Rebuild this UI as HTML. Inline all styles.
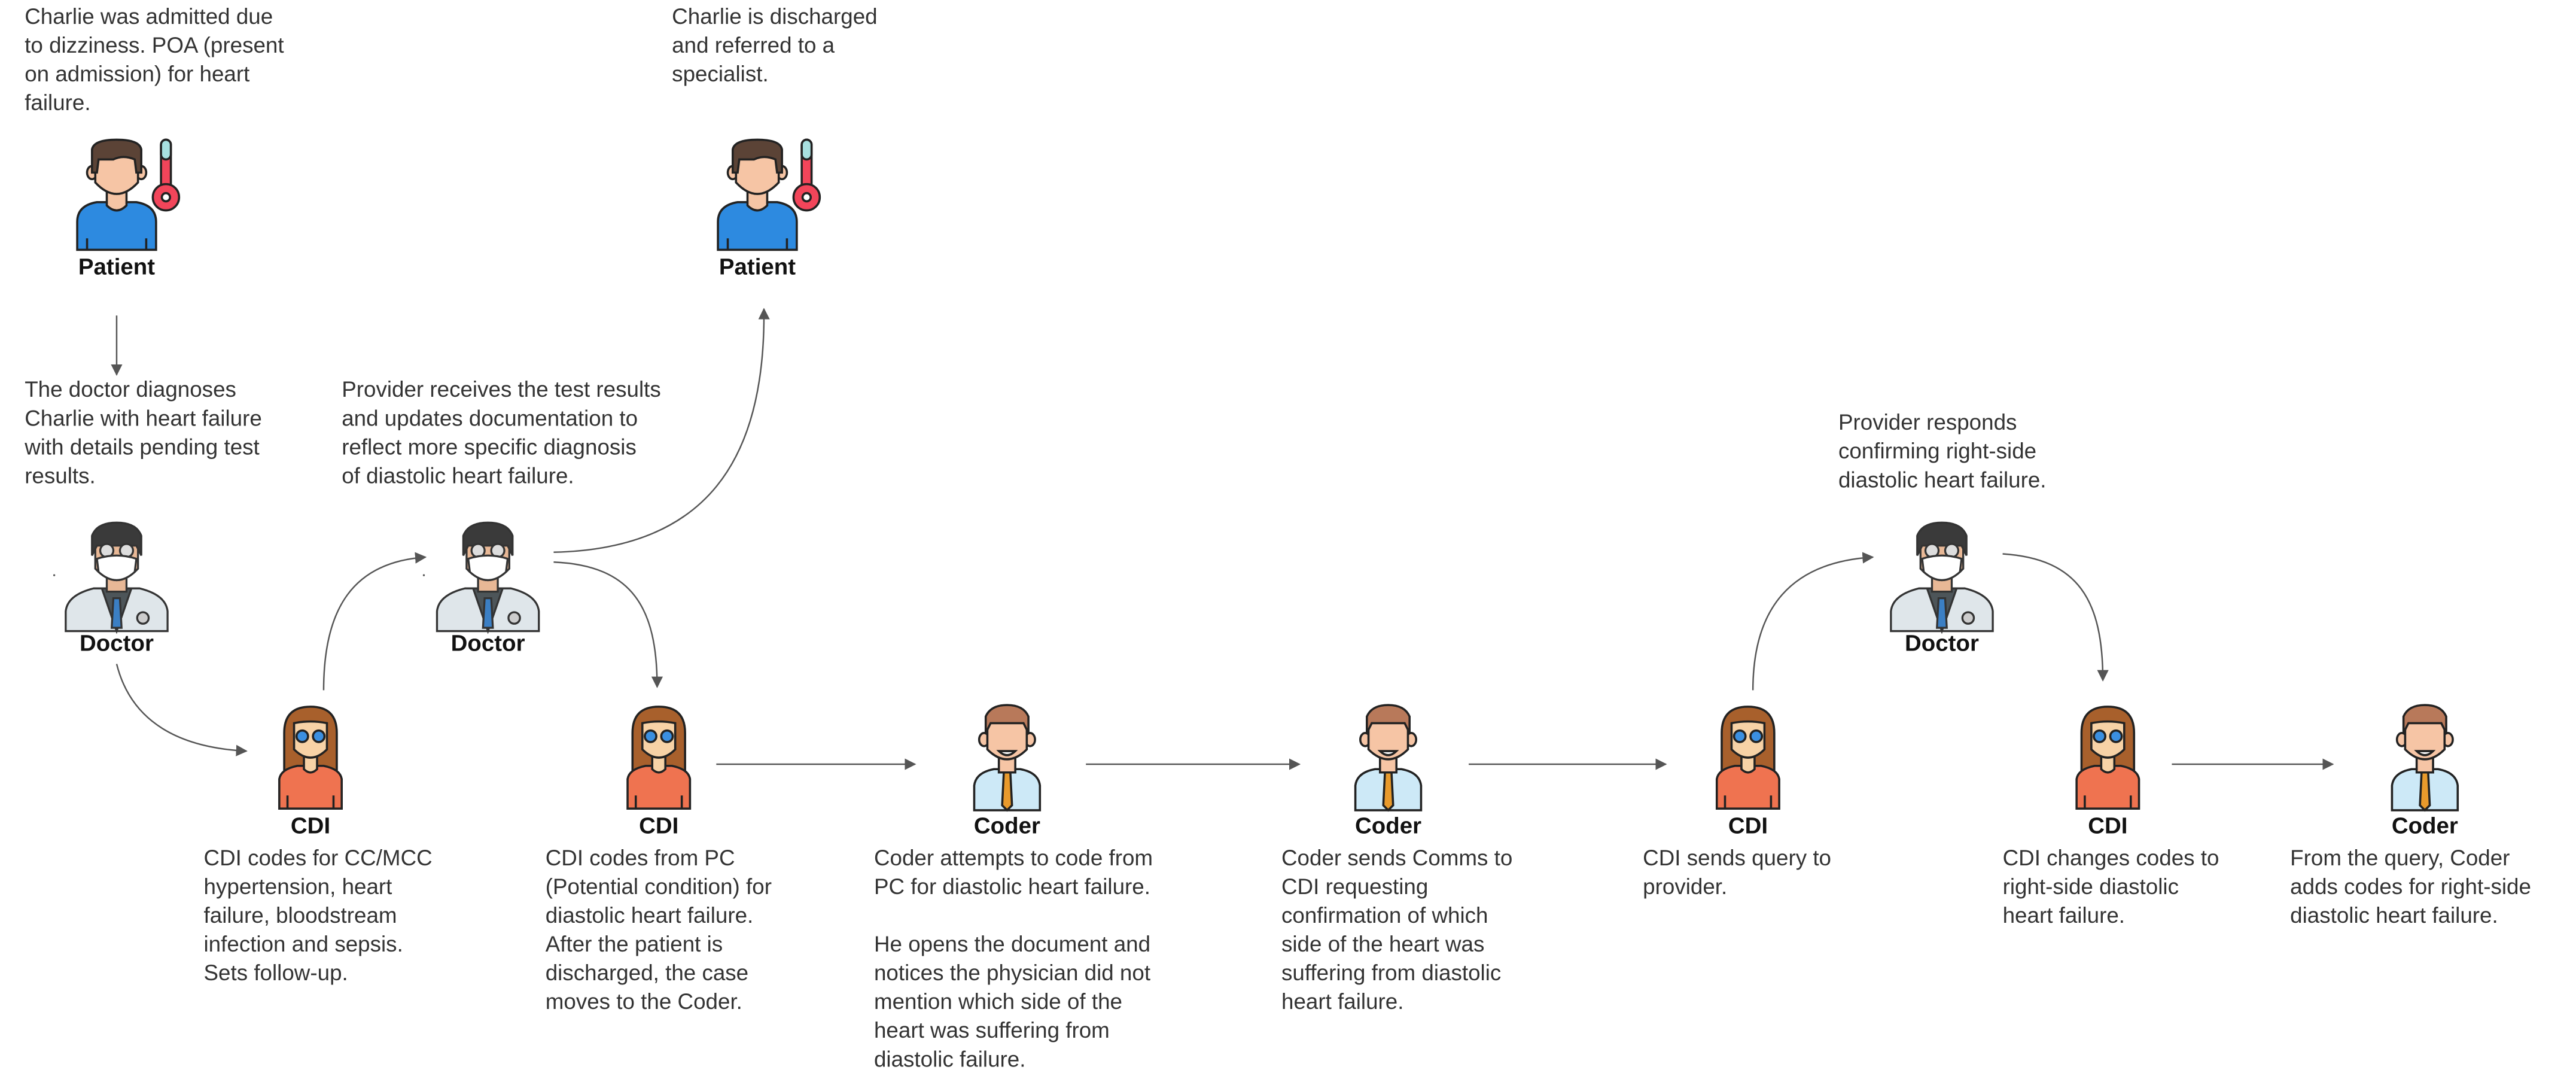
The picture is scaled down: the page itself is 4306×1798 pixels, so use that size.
<!DOCTYPE html>
<html><head><meta charset="utf-8"><style>
html,body{margin:0;padding:0;background:#fff;}
svg{display:block;}
.t{font-family:"Liberation Sans",sans-serif;font-size:13.4px;fill:#333;}
.l{font-family:"Liberation Sans",sans-serif;font-size:14px;font-weight:bold;fill:#111;text-anchor:middle;}
.c{fill:none;stroke:#555;stroke-width:0.9;}
</style></head><body>
<svg width="4306" height="1798" viewBox="0 0 1568 654.7" xmlns="http://www.w3.org/2000/svg">
<defs>
<marker id="a" viewBox="0 0 10 10" refX="9" refY="5" markerWidth="7" markerHeight="7" orient="auto" markerUnits="userSpaceOnUse"><path d="M0,0 L10,5 L0,10 z" fill="#555"/></marker>
<g id="patient" stroke="#222" stroke-width="1.3">
<path d="M-24,67 L-24,50 Q-24,40 -12,38 L12,38 Q24,40 24,50 L24,67 Z" fill="#2d8ae0"/>
<path d="M-6,30 L-6,40 Q0,46 6,40 L6,30 Z" fill="#f6c5a5"/>
<ellipse cx="-15" cy="20" rx="3" ry="4" fill="#f6c5a5"/><ellipse cx="15" cy="20" rx="3" ry="4" fill="#f6c5a5"/>
<path d="M-13,10 L-13,26 Q0,40 13,26 L13,10 Z" fill="#f6c5a5"/>
<path d="M-15,20 L-15,6 Q-14,0 0,0 Q14,0 15,6 L15,20 L12,20 L11,12 Q4,9 -2,12 L-11,12 L-12,20 Z" fill="#5b4336"/>
<path d="M-18,67 L-18,60 M18,67 L18,60" fill="none"/>
<rect x="27" y="0" width="6" height="30" rx="3" fill="#f2455a"/>
<rect x="27" y="0" width="6" height="12" rx="3" fill="#a8e0e0"/>
<circle cx="30" cy="35" r="8" fill="#f2455a"/><circle cx="30" cy="35" r="2.5" fill="#fff"/>
</g>
<g id="doctor" stroke="#333" stroke-width="1.2">
<path d="M-31,64 L-31,52 Q-30,42 -14,38 L14,38 Q30,42 31,52 L31,64 Z" fill="#dfe6ea"/>
<path d="M-9,38 L0,64 L9,38 Z" fill="#4d5559"/>
<path d="M-2,44 L2,44 L3,62 L-3,62 Z" fill="#3b7fc4"/>
<path d="M-6,30 L-6,40 L6,40 L6,30 Z" fill="#e8b896"/>
<path d="M-13,10 L-13,26 Q0,40 13,26 L13,10 Z" fill="#e8b896"/>
<path d="M-15,18 L-15,6 Q-12,-2 0,-2 Q12,-2 15,6 L15,18 L12,12 L-12,12 Z" fill="#3a3a3a"/>
<circle cx="-6" cy="15" r="4" fill="#ddd"/><circle cx="6" cy="15" r="4" fill="#ddd"/>
<path d="M-12,20 Q0,16 12,20 L11,28 Q0,38 -11,28 Z" fill="#fff"/>
<circle cx="16" cy="56" r="3.5" fill="#ccc"/>
</g>
<g id="cdi" stroke="#222" stroke-width="1.3">
<path d="M-16,44 L-16,16 Q-16,0 0,0 Q16,0 16,16 L16,44 Z" fill="#a8602c"/>
<path d="M-19,62 L-19,44 Q-18,38 -8,36 L8,36 Q18,38 19,44 L19,62 Z" fill="#ef7350"/>
<path d="M-4,30 L-4,38 Q0,42 4,38 L4,30 Z" fill="#f7d2a6"/>
<path d="M-10,10 L-10,26 Q0,36 10,26 L10,10 Q0,8 -10,10 Z" fill="#f7d2a6"/>
<circle cx="-5" cy="18" r="3.5" fill="#3b8fe0"/><circle cx="5" cy="18" r="3.5" fill="#3b8fe0"/>
<path d="M-14,62 L-14,54 M14,62 L14,54" fill="none"/>
</g>
<g id="coder" stroke="#222" stroke-width="1.3">
<path d="M-20,63 L-20,48 Q-19,40 -8,38 L8,38 Q19,40 20,48 L20,63 Z" fill="#cde9f7"/>
<path d="M-2,40 L2,40 L3,60 L0,63 L-3,60 Z" fill="#e89a2c"/>
<path d="M-5,30 L-5,40 L5,40 L5,30 Z" fill="#f6c5a5"/>
<ellipse cx="-14" cy="20" rx="3" ry="4" fill="#f6c5a5"/><ellipse cx="14" cy="20" rx="3" ry="4" fill="#f6c5a5"/>
<path d="M-12,10 L-12,26 Q0,38 12,26 L12,10 Z" fill="#f6c5a5"/>
<path d="M-13,16 L-13,6 Q-10,-1 0,-1 Q10,-1 13,6 L13,16 L10,10 L-10,10 Z" fill="#b8795a"/>
<path d="M-5,27 Q0,32 5,27 Z" fill="#fff"/>
</g>
</defs>

<use href="#patient" x="71" y="85"/>
<use href="#patient" x="461" y="85"/>
<use href="#doctor" x="71" y="320"/>
<use href="#doctor" x="297" y="320"/>
<use href="#doctor" x="1182" y="320"/>
<use href="#cdi" x="189" y="430"/>
<use href="#cdi" x="401" y="430"/>
<use href="#cdi" x="1064" y="430"/>
<use href="#cdi" x="1283" y="430"/>
<use href="#coder" x="613" y="430"/>
<use href="#coder" x="845" y="430"/>
<use href="#coder" x="1476" y="430"/>

<text class="l" x="71" y="167">Patient</text>
<text class="l" x="461" y="167">Patient</text>
<text class="l" x="71" y="396">Doctor</text>
<text class="l" x="297" y="396">Doctor</text>
<text class="l" x="1182" y="396">Doctor</text>
<text class="l" x="189" y="507">CDI</text>
<text class="l" x="401" y="507">CDI</text>
<text class="l" x="1064" y="507">CDI</text>
<text class="l" x="1283" y="507">CDI</text>
<text class="l" x="613" y="507">Coder</text>
<text class="l" x="845" y="507">Coder</text>
<text class="l" x="1476" y="507">Coder</text>

<path class="c" marker-end="url(#a)" d="M71,192 L71,228"/>
<path class="c" marker-end="url(#a)" d="M71,404 C80,440 110,455 150,457"/>
<path class="c" marker-end="url(#a)" d="M197,420 C197,370 215,342 259,339"/>
<path class="c" marker-end="url(#a)" d="M337,336 C430,334 466,280 465,188"/>
<path class="c" marker-end="url(#a)" d="M337,342 C385,344 400,370 400,418"/>
<path class="c" marker-end="url(#a)" d="M436,465 L557,465"/>
<path class="c" marker-end="url(#a)" d="M661,465 L791,465"/>
<path class="c" marker-end="url(#a)" d="M894,465 L1014,465"/>
<path class="c" marker-end="url(#a)" d="M1067,420 C1067,370 1090,342 1140,339"/>
<path class="c" marker-end="url(#a)" d="M1219,337 C1265,340 1280,365 1280,414"/>
<path class="c" marker-end="url(#a)" d="M1322,465 L1420,465"/>
<circle cx="33" cy="350" r="0.6" fill="#555"/><circle cx="258" cy="350" r="0.6" fill="#555"/>

<text class="t" x="15" y="14.5"><tspan x="15">Charlie was admitted due</tspan><tspan x="15" dy="17.5">to dizziness. POA (present</tspan><tspan x="15" dy="17.5">on admission) for heart</tspan><tspan x="15" dy="17.5">failure.</tspan></text>
<text class="t" x="409" y="14.5"><tspan x="409">Charlie is discharged</tspan><tspan x="409" dy="17.5">and referred to a</tspan><tspan x="409" dy="17.5">specialist.</tspan></text>
<text class="t" x="15" y="241.5"><tspan x="15">The doctor diagnoses</tspan><tspan x="15" dy="17.5">Charlie with heart failure</tspan><tspan x="15" dy="17.5">with details pending test</tspan><tspan x="15" dy="17.5">results.</tspan></text>
<text class="t" x="208" y="241.5"><tspan x="208">Provider receives the test results</tspan><tspan x="208" dy="17.5">and updates documentation to</tspan><tspan x="208" dy="17.5">reflect more specific diagnosis</tspan><tspan x="208" dy="17.5">of diastolic heart failure.</tspan></text>
<text class="t" x="1119" y="261.5"><tspan x="1119">Provider responds</tspan><tspan x="1119" dy="17.5">confirming right-side</tspan><tspan x="1119" dy="17.5">diastolic heart failure.</tspan></text>
<text class="t" x="124" y="526.5"><tspan x="124">CDI codes for CC/MCC</tspan><tspan x="124" dy="17.5">hypertension, heart</tspan><tspan x="124" dy="17.5">failure, bloodstream</tspan><tspan x="124" dy="17.5">infection and sepsis.</tspan><tspan x="124" dy="17.5">Sets follow-up.</tspan></text>
<text class="t" x="332" y="526.5"><tspan x="332">CDI codes from PC</tspan><tspan x="332" dy="17.5">(Potential condition) for</tspan><tspan x="332" dy="17.5">diastolic heart failure.</tspan><tspan x="332" dy="17.5">After the patient is</tspan><tspan x="332" dy="17.5">discharged, the case</tspan><tspan x="332" dy="17.5">moves to the Coder.</tspan></text>
<text class="t" x="532" y="526.5"><tspan x="532">Coder attempts to code from</tspan><tspan x="532" dy="17.5">PC for diastolic heart failure.</tspan><tspan x="532" dy="35">He opens the document and</tspan><tspan x="532" dy="17.5">notices the physician did not</tspan><tspan x="532" dy="17.5">mention which side of the</tspan><tspan x="532" dy="17.5">heart was suffering from</tspan><tspan x="532" dy="17.5">diastolic failure.</tspan></text>
<text class="t" x="780" y="526.5"><tspan x="780">Coder sends Comms to</tspan><tspan x="780" dy="17.5">CDI requesting</tspan><tspan x="780" dy="17.5">confirmation of which</tspan><tspan x="780" dy="17.5">side of the heart was</tspan><tspan x="780" dy="17.5">suffering from diastolic</tspan><tspan x="780" dy="17.5">heart failure.</tspan></text>
<text class="t" x="1000" y="526.5"><tspan x="1000">CDI sends query to</tspan><tspan x="1000" dy="17.5">provider.</tspan></text>
<text class="t" x="1219" y="526.5"><tspan x="1219">CDI changes codes to</tspan><tspan x="1219" dy="17.5">right-side diastolic</tspan><tspan x="1219" dy="17.5">heart failure.</tspan></text>
<text class="t" x="1394" y="526.5"><tspan x="1394">From the query, Coder</tspan><tspan x="1394" dy="17.5">adds codes for right-side</tspan><tspan x="1394" dy="17.5">diastolic heart failure.</tspan></text>
</svg>
</body></html>
